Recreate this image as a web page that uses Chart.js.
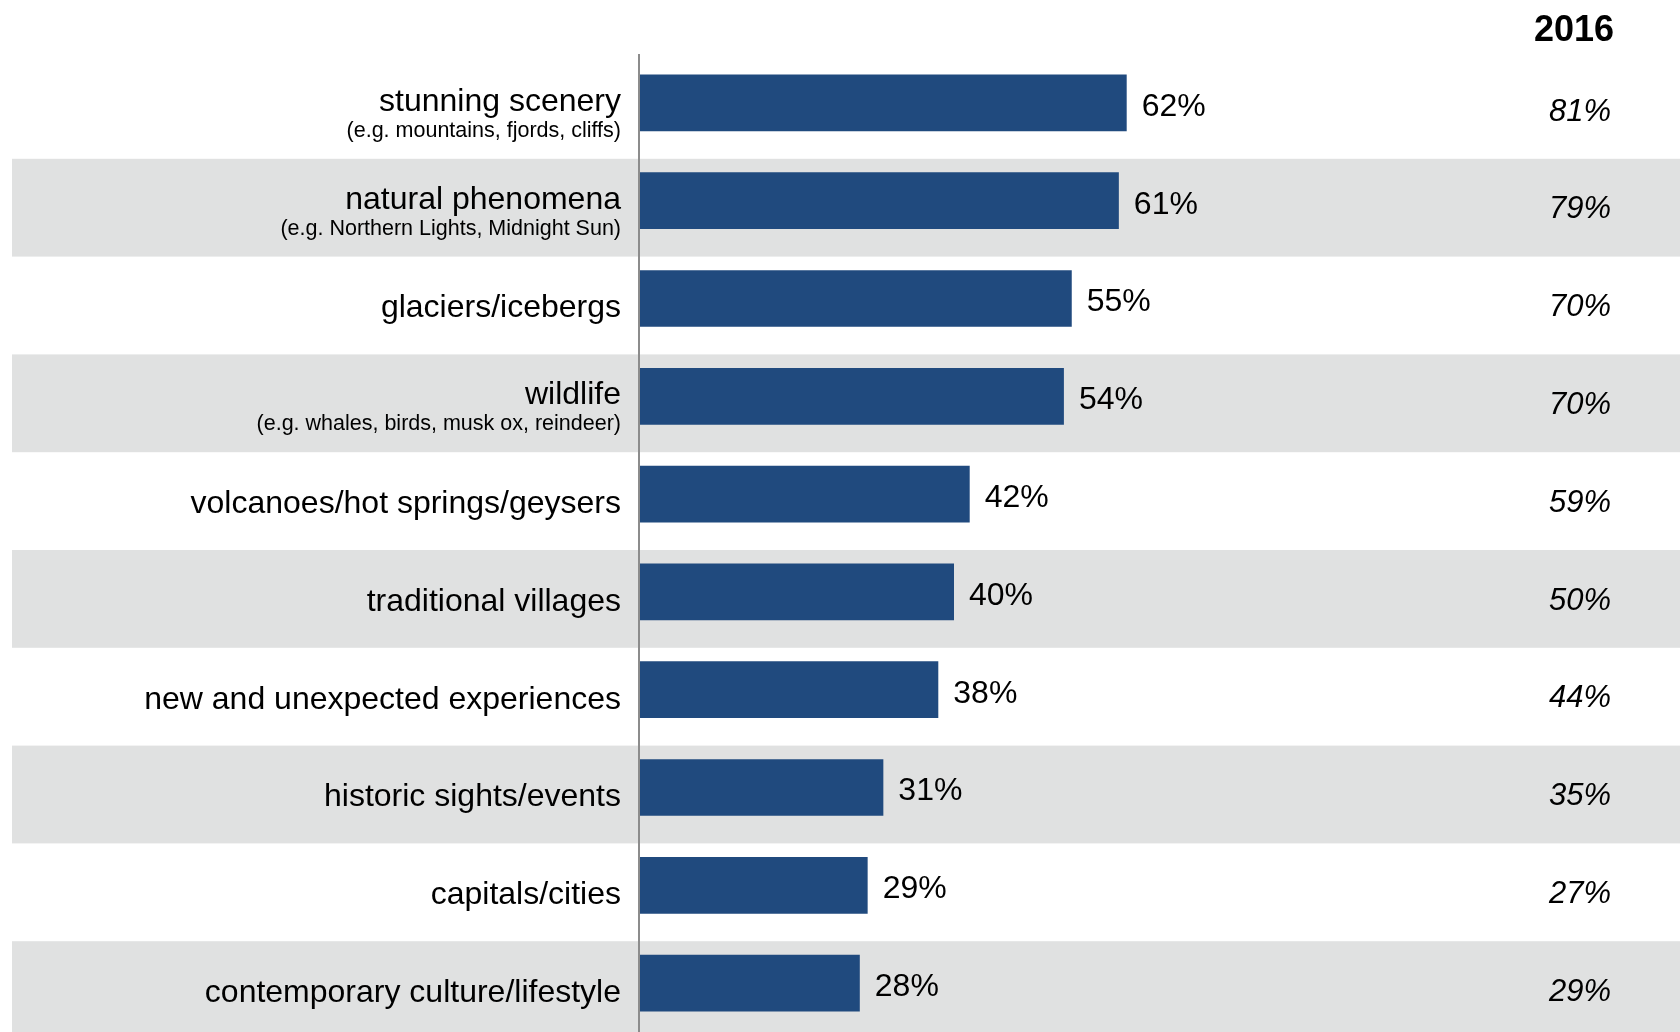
<!DOCTYPE html>
<html>
<head>
    <title>Travel Motivations</title>
    <style>
        body { margin: 0; background: #fff; }
        canvas { display: block; }
    </style>
    <script src="https://cdn.jsdelivr.net/npm/chart.js"></script>
</head>
<body>
    <canvas id="motivesChart" width="1680" height="1032"></canvas>

    <script>
        const categories = [
            'stunning scenery',
            'natural phenomena',
            'glaciers/icebergs',
            'wildlife',
            'volcanoes/hot springs/geysers',
            'traditional villages',
            'new and unexpected experiences',
            'historic sights/events',
            'capitals/cities',
            'contemporary culture/lifestyle'
        ];
        const subtitles = [
            '(e.g. mountains, fjords, cliffs)',
            '(e.g. Northern Lights, Midnight Sun)',
            '',
            '(e.g. whales, birds, musk ox, reindeer)',
            '', '', '', '', '', ''
        ];
        const currentValues = [62, 61, 55, 54, 42, 40, 38, 31, 29, 28];
        const values2016 = [81, 79, 70, 70, 59, 50, 44, 35, 27, 29];
        const compareYear = '2016';

        const FONT = '"Liberation Sans", Arial, sans-serif';
        const BAND_SHIFT = 7; // row bands sit a little lower than the bars

        // grey row bands, axis line and all the text
        const rowDecor = {
            id: 'rowDecor',
            beforeDatasetsDraw(chart) {
                const ctx = chart.ctx;
                const y = chart.scales.y;
                const pitch = y.getPixelForValue(1) - y.getPixelForValue(0);
                ctx.save();
                ctx.fillStyle = '#e0e1e1';
                categories.forEach((c, i) => {
                    if (i % 2 === 1) {
                        const mid = y.getPixelForValue(i) + BAND_SHIFT;
                        ctx.fillRect(12, mid - pitch / 2, chart.width - 12, pitch);
                    }
                });
                ctx.restore();
            },
            afterDatasetsDraw(chart) {
                const ctx = chart.ctx;
                const y = chart.scales.y;
                const x = chart.scales.x;
                const area = chart.chartArea;
                ctx.save();

                // vertical axis line
                ctx.strokeStyle = '#8c8c8c';
                ctx.lineWidth = 2;
                ctx.beginPath();
                ctx.moveTo(area.left - 1, area.top);
                ctx.lineTo(area.left - 1, area.bottom);
                ctx.stroke();

                ctx.fillStyle = '#000';
                ctx.textBaseline = 'middle';

                // category labels
                ctx.textAlign = 'right';
                categories.forEach((c, i) => {
                    const mid = y.getPixelForValue(i) + BAND_SHIFT;
                    if (subtitles[i]) {
                        ctx.font = '32px ' + FONT;
                        ctx.fillText(c, area.left - 19, mid - 8);
                        ctx.font = '21.5px ' + FONT;
                        ctx.fillText(subtitles[i], area.left - 19, mid + 21);
                    } else {
                        ctx.font = '32px ' + FONT;
                        ctx.fillText(c, area.left - 19, mid + 3);
                    }
                });

                // value labels next to the bars
                ctx.textAlign = 'left';
                ctx.font = '32px ' + FONT;
                currentValues.forEach((v, i) => {
                    ctx.fillText(v + '%', x.getPixelForValue(v) + 15, y.getPixelForValue(i) + 4);
                });

                // comparison column
                ctx.textAlign = 'right';
                ctx.font = 'bold 36px ' + FONT;
                ctx.fillText(compareYear, 1614, 31);
                ctx.font = 'italic 31px ' + FONT;
                values2016.forEach((v, i) => {
                    ctx.fillText(v + '%', 1611, y.getPixelForValue(i) + BAND_SHIFT + 2);
                });

                ctx.restore();
            }
        };

        const ctx = document.getElementById('motivesChart').getContext('2d');
        new Chart(ctx, {
            type: 'bar',
            data: {
                labels: categories,
                datasets: [{
                    data: currentValues,
                    backgroundColor: '#204a7e',
                    borderWidth: 0,
                    barPercentage: 0.58,
                    categoryPercentage: 1
                }]
            },
            options: {
                indexAxis: 'y',
                responsive: false,
                animation: false,
                layout: { padding: { left: 640, right: 255, top: 54, bottom: 0 } },
                plugins: {
                    legend: { display: false },
                    tooltip: { enabled: false }
                },
                scales: {
                    x: { display: false, min: 0, max: 100 },
                    y: { display: false }
                }
            },
            plugins: [rowDecor]
        });
    </script>
</body>
</html>
